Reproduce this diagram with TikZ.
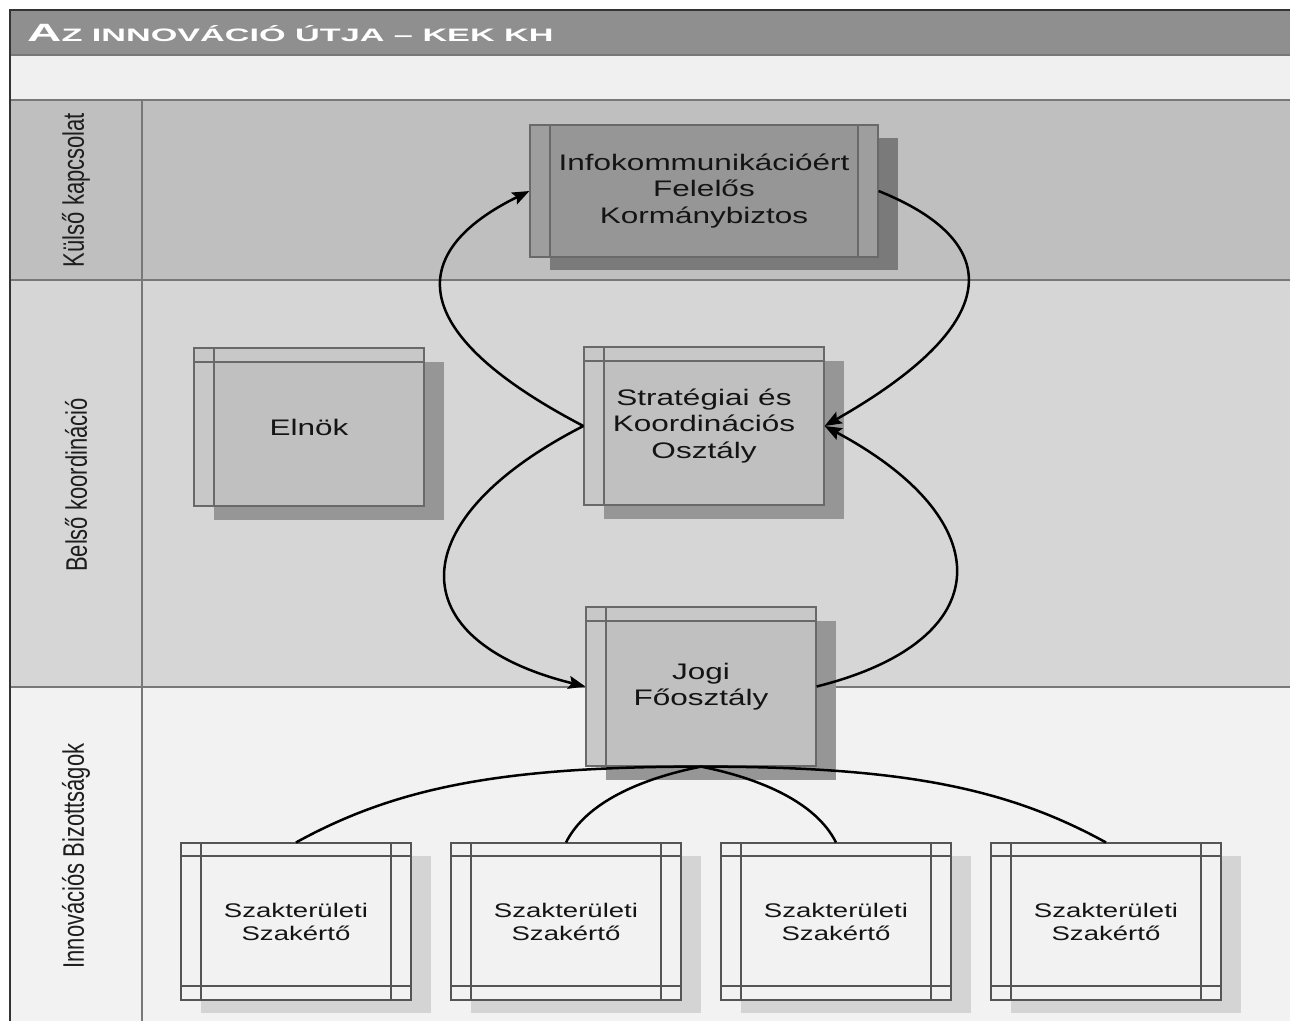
\documentclass[tikz,border=0pt]{standalone}
\usepackage{fontspec}
\setmainfont{Liberation Sans}
\newfontfamily\boxfont[FakeStretch=1.4]{Liberation Sans}
\newfontfamily\ttlfont[FakeStretch=1.9]{Liberation Sans}
\usetikzlibrary{arrows.meta,shadows}
\definecolor{titlebg}{RGB}{143,143,143}
\definecolor{bandbg}{RGB}{240,240,240}
\definecolor{laneA}{RGB}{191,191,191}
\definecolor{laneB}{RGB}{214,214,214}
\definecolor{laneC}{RGB}{242,242,242}
\definecolor{laneline}{RGB}{120,120,120}
\definecolor{infofill}{RGB}{150,150,150}
\definecolor{infoband}{RGB}{158,158,158}
\definecolor{infoshadow}{RGB}{122,122,122}
\definecolor{medfill}{RGB}{192,192,192}
\definecolor{medband}{RGB}{200,200,200}
\definecolor{medshadow}{RGB}{150,150,150}
\definecolor{boxline}{RGB}{105,105,105}
\definecolor{szfill}{RGB}{242,242,242}
\definecolor{szshadow}{RGB}{212,212,212}
\definecolor{szline}{RGB}{85,85,85}
\definecolor{textc}{RGB}{20,20,20}
\definecolor{lanetext}{RGB}{30,30,30}
\tikzset{
  lanelbl/.style={inner sep=0pt, text=lanetext, font={\fontsize{22}{22}\selectfont}},
  conn/.style={line width=2.5pt, draw=black},
  arr/.style={conn, -{Stealth[length=17pt,width=13pt,inset=3pt]}},
  infobox/.style={rectangle, draw=boxline, line width=1.2pt, fill=infofill, inner sep=0pt,
    minimum width=348pt, minimum height=132pt, align=center, text=textc,
    font={\boxfont\fontsize{22.5}{26.5}\selectfont},
    drop shadow={shadow xshift=20pt, shadow yshift=-13pt, fill=infoshadow, opacity=1},
    path picture={
      \fill[infoband] (path picture bounding box.north west) rectangle ([xshift=20pt]path picture bounding box.south west);
      \fill[infoband] ([xshift=-20pt]path picture bounding box.north east) rectangle (path picture bounding box.south east);
      \draw[boxline, line width=1.2pt] ([xshift=20pt]path picture bounding box.north west) -- ([xshift=20pt]path picture bounding box.south west);
      \draw[boxline, line width=1.2pt] ([xshift=-20pt]path picture bounding box.north east) -- ([xshift=-20pt]path picture bounding box.south east);
    }},
  medbox/.style={rectangle, draw=boxline, line width=1.2pt, fill=medfill, inner sep=0pt,
    minimum width=230pt, minimum height=158pt, align=center, text=textc,
    font={\boxfont\fontsize{22.5}{26.5}\selectfont},
    drop shadow={shadow xshift=20pt, shadow yshift=-14pt, fill=medshadow, opacity=1},
    path picture={
      \fill[medband] (path picture bounding box.north west) rectangle ([yshift=-14pt]path picture bounding box.north east);
      \fill[medband] (path picture bounding box.north west) rectangle ([xshift=20pt]path picture bounding box.south west);
      \draw[boxline, line width=1.2pt] ([yshift=-14pt]path picture bounding box.north west) -- ([yshift=-14pt]path picture bounding box.north east);
      \draw[boxline, line width=1.2pt] ([xshift=20pt]path picture bounding box.north west) -- ([xshift=20pt]path picture bounding box.south west);
    }},
  szbox/.style={rectangle, draw=szline, line width=1.1pt, fill=szfill, inner sep=0pt,
    minimum width=230pt, minimum height=157pt, align=center, text=textc,
    font={\boxfont\fontsize{19.7}{23}\selectfont},
    drop shadow={shadow xshift=20pt, shadow yshift=-13pt, fill=szshadow, opacity=1},
    path picture={
      \draw[szline, line width=1.1pt] ([yshift=-13pt]path picture bounding box.north west) -- ([yshift=-13pt]path picture bounding box.north east);
      \draw[szline, line width=1.1pt] ([yshift=14pt]path picture bounding box.south west) -- ([yshift=14pt]path picture bounding box.south east);
      \draw[szline, line width=1.1pt] ([xshift=20pt]path picture bounding box.north west) -- ([xshift=20pt]path picture bounding box.south west);
      \draw[szline, line width=1.1pt] ([xshift=-20pt]path picture bounding box.north east) -- ([xshift=-20pt]path picture bounding box.south east);
    }}
}
\begin{document}
\begin{tikzpicture}[x=1pt,y=-1pt]
\useasboundingbox (0,0) rectangle (1290,1021);
% backgrounds
\fill[white] (0,0) rectangle (1290,1021);
\fill[titlebg] (10,10) rectangle (1290,55);
\fill[bandbg] (10,55) rectangle (1290,100);
\fill[laneA] (10,100) rectangle (1290,280);
\fill[laneB] (10,280) rectangle (1290,687);
\fill[laneC] (10,687) rectangle (1290,1021);
% frame and lane lines
\draw[laneline, line width=1.5pt] (10,55) -- (1290,55);
\draw[laneline, line width=1.5pt] (10,100) -- (1290,100);
\draw[laneline, line width=1.5pt] (10,280) -- (1290,280);
\draw[laneline, line width=1.5pt] (10,687) -- (1290,687);
\draw[laneline, line width=1.5pt] (142,100) -- (142,1021);
\draw[black!80, line width=2pt] (10,1021) -- (10,10) -- (1290,10);
% title
\node[anchor=base west, inner sep=0pt, text=white] (title) at (27,41)
  {\ttlfont\bfseries\fontsize{25}{25}\selectfont A\fontsize{18}{18}\selectfont Z INNOVÁCIÓ ÚTJA – KEK KH};
% lane labels
\node[lanelbl] (lane1) at (76,190) {\scalebox{1.35}[1]{\rotatebox{90}{Külső kapcsolat}}};
\node[lanelbl] (lane2) at (76,485) {\scalebox{1.35}[1]{\rotatebox{90}{Belső koordináció}}};
\node[lanelbl] (lane3) at (76,856) {\scalebox{1.35}[1]{\rotatebox{90}{Innovációs Bizottságok}}};
% boxes
\node[infobox] (info) at (704,191) {Infokommunikációért\\Felelős\\Kormánybiztos};
\node[medbox] (elnok) at (309,427) {Elnök};
\node[medbox, minimum width=240pt] (strat) at (704,426) {Stratégiai és\\Koordinációs\\Osztály};
\node[medbox, minimum height=159pt] (jogi) at (701,686.5) {Jogi\\Főosztály};
\node[szbox] (sz1) at (296,921.5) {Szakterületi\\Szakértő};
\node[szbox] (sz2) at (566,921.5) {Szakterületi\\Szakértő};
\node[szbox] (sz3) at (836,921.5) {Szakterületi\\Szakértő};
\node[szbox] (sz4) at (1106,921.5) {Szakterületi\\Szakértő};
% connectors
\draw[arr] (strat.west) .. controls +(-184,-96) and +(-120,59) .. (info.west);
\draw[arr] (info.east) .. controls +(122,49) and +(186,-106) .. (strat.east);
\draw[arr] (jogi.east) .. controls +(184,-46) and +(176,94) .. (strat.east);
\draw[arr] (strat.west) .. controls +(-184,94) and +(-186,-46) .. (jogi.west);
\draw[conn] (jogi.south) .. controls +(-200,0) and +(100,-55) .. (sz1.north);
\draw[conn] (jogi.south) .. controls +(-60,12) and +(20,-40) .. (sz2.north);
\draw[conn] (jogi.south) .. controls +(60,12) and +(-20,-40) .. (sz3.north);
\draw[conn] (jogi.south) .. controls +(200,0) and +(-100,-55) .. (sz4.north);
\end{tikzpicture}
\end{document}
